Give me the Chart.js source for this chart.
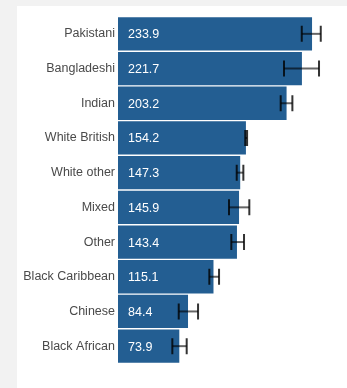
<!DOCTYPE html>
<html>
<head>
<meta charset="utf-8">
<script src="https://cdn.jsdelivr.net/npm/chart.js@4"></script>
<style>
  html, body { margin: 0; padding: 0; background: #f2f2f2; }
  #panel { position: absolute; left: 17px; top: 6px; width: 330px; height: 382px; background: #fff; }
</style>
</head>
<body>
<div id="panel"><canvas id="chart" width="330" height="382"></canvas></div>
<script>
const groups = ['Pakistani', 'Bangladeshi', 'Indian', 'White British', 'White other', 'Mixed', 'Other', 'Black Caribbean', 'Chinese', 'Black African'];
const rates = [233.9, 221.7, 203.2, 154.2, 147.3, 145.9, 143.4, 115.1, 84.4, 73.9];
const ciLow = [221.5, 200.1, 196.1, 153.4, 143.1, 133.8, 136.6, 110.1, 73.2, 65.5];
const ciHigh = [244.4, 242.3, 210.2, 155.6, 151.1, 158.3, 151.9, 121.8, 96.5, 82.8];

// value labels inside bars + confidence interval whiskers
const extras = {
    id: 'extras',
    afterDatasetsDraw(chart) {
        const ctx = chart.ctx;
        const x = chart.scales.x;
        const meta = chart.getDatasetMeta(0);
        ctx.save();
        meta.data.forEach((bar, i) => {
            const y = bar.y;
            ctx.fillStyle = '#fff';
            ctx.font = '12.5px "Liberation Sans", Arial, sans-serif';
            ctx.textAlign = 'left';
            ctx.textBaseline = 'middle';
            ctx.fillText(rates[i].toFixed(1), x.getPixelForValue(0) + 10, y + 1);

            const lo = x.getPixelForValue(ciLow[i]);
            const hi = x.getPixelForValue(ciHigh[i]);
            ctx.strokeStyle = 'rgba(0,0,0,0.6)';
            ctx.lineWidth = 2;
            ctx.beginPath();
            ctx.moveTo(lo, y);
            ctx.lineTo(hi, y);
            ctx.stroke();
            ctx.strokeStyle = 'rgba(0,0,0,0.8)';
            ctx.beginPath();
            ctx.moveTo(lo, y - 8);
            ctx.lineTo(lo, y + 8);
            ctx.moveTo(hi, y - 8);
            ctx.lineTo(hi, y + 8);
            ctx.stroke();
        });
        ctx.restore();
    }
};

new Chart(document.getElementById('chart'), {
    type: 'bar',
    data: {
        labels: groups,
        datasets: [{
            data: rates,
            backgroundColor: '#235e92',
            borderWidth: 0,
            barPercentage: 0.96,
            categoryPercentage: 1
        }]
    },
    options: {
        indexAxis: 'y',
        responsive: false,
        animation: false,
        layout: { padding: { top: 10.5, bottom: 24.5, left: 0, right: 21.6 } },
        plugins: { legend: { display: false }, tooltip: { enabled: false } },
        scales: {
            x: { display: false, min: 0, max: 250 },
            y: {
                grid: { display: false, drawTicks: false },
                border: { display: false },
                afterFit(scale) { scale.width = 101; },
                ticks: {
                    padding: 3,
                    color: '#4a4a4a',
                    font: { family: '"Liberation Sans", Arial, sans-serif', size: 12.5 }
                }
            }
        }
    },
    plugins: [extras]
});
</script>
</body>
</html>
